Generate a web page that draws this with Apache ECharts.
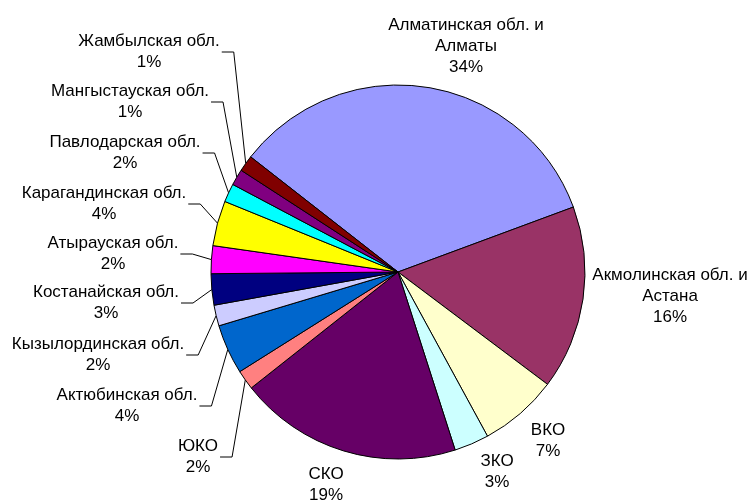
<!DOCTYPE html>
<html>
<head>
<meta charset="utf-8">
<script src="https://cdn.jsdelivr.net/npm/echarts@6/dist/echarts.min.js"></script>
<style>
html,body{margin:0;padding:0;background:#fff;}
#chart{width:753px;height:500px;}
</style>
</head>
<body>
<div id="chart"></div>
<script>
const categories = ['Алматинская обл. и\nАлматы', 'Акмолинская обл. и\nАстана', 'ВКО', 'ЗКО', 'СКО', 'ЮКО',
  'Актюбинская обл.', 'Кызылординская обл.', 'Костанайская обл.', 'Атырауская обл.',
  'Карагандинская обл.', 'Павлодарская обл.', 'Мангыстауская обл.', 'Жамбылская обл.'];
const shares = [33.8, 15.9, 6.8, 3.0, 19.3, 1.7, 4.3, 1.8, 2.7, 2.4, 3.9, 1.6, 1.4, 1.4];
const colors = ['#9999FF', '#993366', '#FFFFCC', '#CCFFFF', '#660066', '#FF8080', '#0066CC',
  '#CCCCFF', '#000080', '#FF00FF', '#FFFF00', '#00FFFF', '#800080', '#800000'];
// label block centres (text layout only)
const labelPos = [[466, 46], [670, 296], [548, 441], [497, 472], [326, 485], [198, 457],
  [127, 406], [98, 355], [106, 303], [113, 254], [104, 204], [125, 153], [130, 102], [149, 52]];
const withLine = [false, false, false, false, false, true, true, true, true, true, true, true, true, true];

const chart = echarts.init(document.getElementById('chart'), null, {renderer: 'canvas'});
chart.setOption({
  animation: false,
  backgroundColor: '#ffffff',
  series: [{
    type: 'pie',
    center: [398, 272],
    radius: 187,
    startAngle: 142,
    clockwise: true,
    avoidLabelOverlap: false,
    itemStyle: {borderColor: '#000', borderWidth: 1},
    emphasis: {disabled: true},
    label: {
      show: true,
      position: 'outside',
      formatter: p => p.name + '\n' + Math.round(p.percent) + '%',
      fontFamily: '"Liberation Sans", Arial, sans-serif',
      fontSize: 17,
      lineHeight: 21,
      color: '#000',
      align: 'center'
    },
    labelLine: {show: true, length: 10, length2: 10, lineStyle: {color: '#000', width: 1}},
    labelLayout: function (p) {
      const pos = labelPos[p.dataIndex];
      const w = p.labelRect.width;
      const out = {x: pos[0], y: pos[1], align: 'center', verticalAlign: 'middle', hideOverlap: false};
      if (withLine[p.dataIndex] && p.labelLinePoints) {
        const edge = p.labelLinePoints[0];
        const right = pos[0] + w / 2;
        out.labelLinePoints = [edge, [right + 14, pos[1]], [right + 2, pos[1]]];
      }
      return out;
    },
    data: categories.map((c, i) => ({
      name: c,
      value: shares[i],
      itemStyle: {color: colors[i]},
      labelLine: {show: withLine[i]}
    }))
  }]
});
</script>
</body>
</html>
